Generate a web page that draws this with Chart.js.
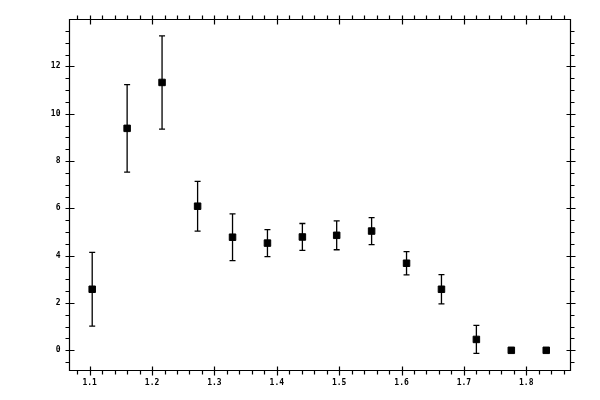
<!DOCTYPE html>
<html>
<head>
<meta charset="utf-8">
<script src="https://cdn.jsdelivr.net/npm/chart.js@4.4.1/dist/chart.umd.min.js"></script>
<style>
  html, body { margin: 0; padding: 0; background: #ffffff; }
  #wrap { width: 600px; height: 400px; }
</style>
</head>
<body>
<div id="wrap"><canvas id="c" width="600" height="400"></canvas></div>
<script>
// ---- data ----
const xValues = [1.104, 1.160, 1.216, 1.273, 1.329, 1.385, 1.441, 1.496, 1.552, 1.608, 1.664, 1.720, 1.776, 1.832];
const yValues = [2.58, 9.38, 11.32, 6.09, 4.78, 4.53, 4.79, 4.86, 5.04, 3.68, 2.58, 0.46, 0.0, 0.0];
const yErrors = [1.56, 1.85, 1.97, 1.05, 0.99, 0.57, 0.57, 0.61, 0.57, 0.49, 0.62, 0.59, 0.0, 0.0];
const xMajorTicks = [1.1, 1.2, 1.3, 1.4, 1.5, 1.6, 1.7, 1.8];
const yMajorTicks = [0, 2, 4, 6, 8, 10, 12];
const xMinorTicks = [1.08, 1.10, 1.12, 1.14, 1.16, 1.18, 1.20, 1.22, 1.24, 1.26, 1.28, 1.30, 1.32, 1.34, 1.36, 1.38, 1.40, 1.42, 1.44, 1.46, 1.48, 1.50, 1.52, 1.54, 1.56, 1.58, 1.60, 1.62, 1.64, 1.66, 1.68, 1.70, 1.72, 1.74, 1.76, 1.78, 1.80, 1.82, 1.84, 1.86];
const yMinorTicks = [-0.5, 0, 0.5, 1, 1.5, 2, 2.5, 3, 3.5, 4, 4.5, 5, 5.5, 6, 6.5, 7, 7.5, 8, 8.5, 9, 9.5, 10, 10.5, 11, 11.5, 12, 12.5, 13, 13.5];

const points = xValues.map((x, i) => ({ x: x, y: yValues[i] }));

const errorBarPlugin = {
  id: 'errorBars',
  beforeDatasetsDraw(chart) {
    const ctx = chart.ctx;
    const xs = chart.scales.x, ys = chart.scales.y;
    ctx.save();
    ctx.strokeStyle = '#000';
    ctx.lineWidth = 1.3;
    xValues.forEach((x, i) => {
      const e = yErrors[i];
      if (!e) return;
      const px = xs.getPixelForValue(x);
      const top = ys.getPixelForValue(yValues[i] + e);
      const bot = ys.getPixelForValue(yValues[i] - e);
      ctx.beginPath();
      ctx.moveTo(px, top); ctx.lineTo(px, bot);
      ctx.moveTo(px - 3, top); ctx.lineTo(px + 3, top);
      ctx.moveTo(px - 3, bot); ctx.lineTo(px + 3, bot);
      ctx.stroke();
    });
    ctx.restore();
  }
};

const frameTicksPlugin = {
  id: 'frameTicks',
  afterDraw(chart) {
    const ctx = chart.ctx;
    const a = chart.chartArea;
    const xs = chart.scales.x, ys = chart.scales.y;
    ctx.save();
    ctx.strokeStyle = '#000';
    ctx.lineWidth = 1.2;
    ctx.beginPath();
    ctx.rect(a.left, a.top, a.right - a.left, a.bottom - a.top);
    ctx.stroke();
    ctx.beginPath();
    xMinorTicks.forEach(v => {
      const p = Math.round(xs.getPixelForValue(v)) + 0.5;
      ctx.moveTo(p, a.bottom); ctx.lineTo(p, a.bottom + 4);
      ctx.moveTo(p, a.top); ctx.lineTo(p, a.top - 4);
    });
    yMinorTicks.forEach(v => {
      const p = Math.round(ys.getPixelForValue(v)) + 0.5;
      ctx.moveTo(a.left, p); ctx.lineTo(a.left - 4, p);
      ctx.moveTo(a.right, p); ctx.lineTo(a.right + 4, p);
    });
    xMajorTicks.forEach(v => {
      const p = Math.round(xs.getPixelForValue(v)) + 0.5;
      ctx.moveTo(p, a.bottom - 4); ctx.lineTo(p, a.bottom + 5);
      ctx.moveTo(p, a.top - 4); ctx.lineTo(p, a.top + 5);
    });
    yMajorTicks.forEach(v => {
      const p = Math.round(ys.getPixelForValue(v)) + 0.5;
      ctx.moveTo(a.left - 4, p); ctx.lineTo(a.left + 5, p);
      ctx.moveTo(a.right - 4, p); ctx.lineTo(a.right + 5, p);
    });
    ctx.stroke();
    ctx.restore();
  }
};

const tickFont = { family: "'DejaVu Sans Mono', monospace", size: 8, weight: 'bold' };

new Chart(document.getElementById('c'), {
  type: 'scatter',
  data: {
    datasets: [{
      data: points,
      pointStyle: 'rect',
      pointRadius: 4.6,
      pointHoverRadius: 4.6,
      backgroundColor: '#000',
      borderColor: '#000',
      borderWidth: 1,
      showLine: false
    }]
  },
  options: {
    responsive: false,
    animation: false,
    events: [],
    layout: { padding: { top: 19.5, right: 29.5, left: 0, bottom: 0 } },
    plugins: { legend: { display: false }, tooltip: { enabled: false } },
    scales: {
      x: {
        type: 'linear',
        min: 1.0676,
        max: 1.8709,
        afterBuildTicks: s => { s.ticks = xMajorTicks.map(v => ({ value: v })); },
        afterFit: s => { s.height = 29.5; },
        grid: { display: false, drawTicks: false },
        border: { display: false },
        ticks: {
          color: '#000',
          font: tickFont,
          padding: 8,
          maxRotation: 0,
          autoSkip: false,
          callback: v => Number(v).toFixed(1)
        }
      },
      y: {
        type: 'linear',
        min: -0.853,
        max: 13.98,
        afterBuildTicks: s => { s.ticks = yMajorTicks.map(v => ({ value: v })); },
        afterFit: s => { s.width = 69.5; },
        grid: { display: false, drawTicks: false },
        border: { display: false },
        ticks: {
          color: '#000',
          font: tickFont,
          padding: 9,
          autoSkip: false,
          callback: v => String(v)
        }
      }
    }
  },
  plugins: [errorBarPlugin, frameTicksPlugin]
});
</script>
</body>
</html>
